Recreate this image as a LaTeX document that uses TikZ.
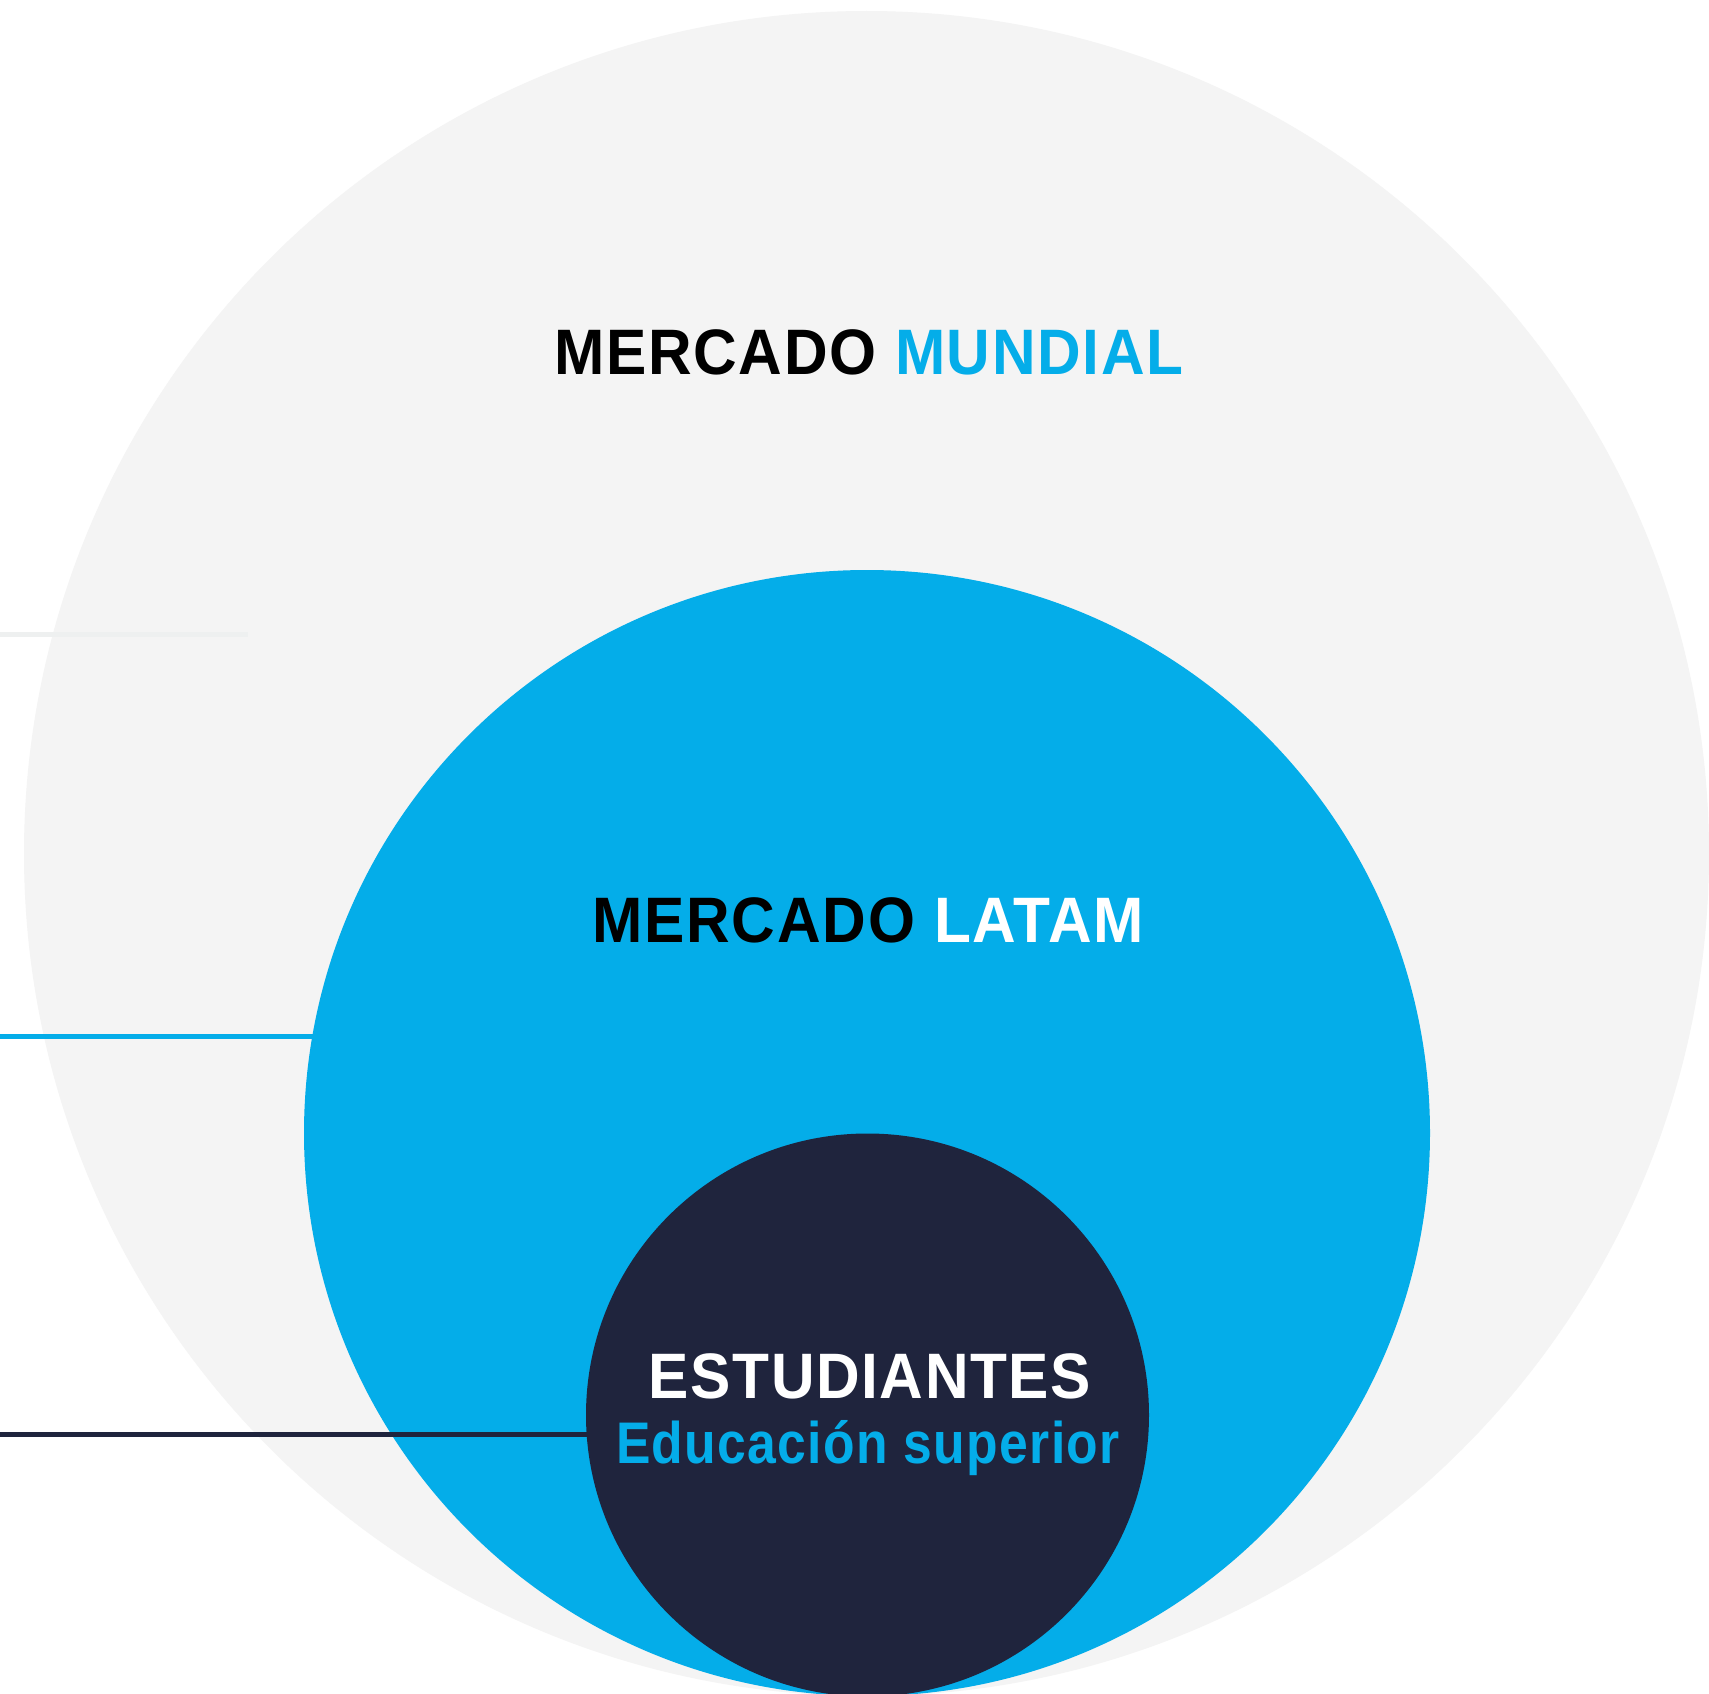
\documentclass[tikz,border=0pt]{standalone}
\usepackage{fontspec}
\setmainfont{Liberation Sans}[FakeStretch=0.94]
\newfontfamily\fmundial{Liberation Sans}[FakeStretch=0.94,LetterSpace=2.6]
\newfontfamily\flatam{Liberation Sans}[FakeStretch=0.94,LetterSpace=2.9]
\newfontfamily\fest{Liberation Sans}[FakeStretch=0.94,LetterSpace=2.5]
\newfontfamily\fedu{Liberation Sans}[FakeStretch=0.88,LetterSpace=2.3]
\definecolor{worldgray}{HTML}{F4F4F4}
\definecolor{lightline}{HTML}{EEF0F0}
\definecolor{latamblue}{HTML}{04ADE9}
\definecolor{navy}{HTML}{1F243D}
\tikzset{
  disc/.style={circle, draw=none, inner sep=0pt, outer sep=0pt},
  guide/.style={line width=5pt, line cap=butt},
  title/.style={anchor=base, inner sep=0pt, font=\bfseries}
}
\begin{document}
\begin{tikzpicture}[x=1pt,y=-1pt]
\useasboundingbox (0,0) rectangle (1709,1694);
\fill[white] (0,0) rectangle (1709,1694);
\node[disc, fill=worldgray, minimum size=1685pt] (world) at (866.5,853.5) {};
\node[disc, fill=latamblue, minimum size=1126pt] (latam) at (867,1133) {};
\node[disc, fill=navy, minimum size=563pt] (stud) at (867.5,1415) {};
\coordinate (l1a) at (0,634);
\coordinate (l1b) at (248,634);
\coordinate (l2a) at (0,1036.5);
\coordinate (l3a) at (0,1434);
\draw[guide, lightline] (l1a) -- (l1b);
\draw[guide, latamblue] (l2a) -- (l2a -| latam.170);
\draw[guide, navy] (l3a) -- (l3a -| stud.184);
\node[title] (tmundial) at (869,374) {\fontsize{64.25}{70}\fmundial\bfseries\color{black}MERCADO \color{latamblue}MUNDIAL};
\node[title] (tlatam) at (868,942.5) {\fontsize{64.25}{70}\flatam\bfseries\color{black}MERCADO \color{white}LATAM};
\node[title] (test) at (870,1398) {\fontsize{64.25}{70}\fest\bfseries\color{white}ESTUDIANTES};
\node[title] (tedu) at (868,1463) {\fontsize{58.7}{64}\fedu\bfseries\color{latamblue}Educación superior};
\end{tikzpicture}
\end{document}
